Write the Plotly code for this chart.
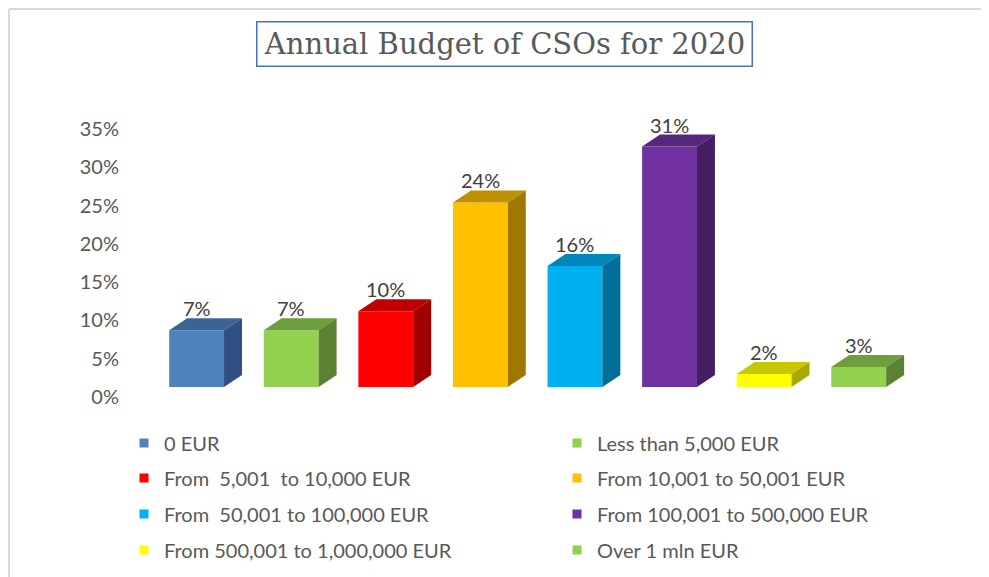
import plotly.graph_objects as go

# ---- data ----
categories = [
    "0 EUR",
    "Less than 5,000 EUR",
    "From\u00a0 5,001\u00a0 to 10,000 EUR",
    "From 10,001 to 50,001 EUR",
    "From\u00a0 50,001 to 100,000 EUR",
    "From 100,001 to 500,000 EUR",
    "From 500,001 to 1,000,000 EUR",
    "Over 1 mln EUR",
]
values = [7.4, 7.4, 9.9, 24.1, 15.8, 31.4, 1.7, 2.6]
y_ticks = [0, 5, 10, 15, 20, 25, 30, 35]
y_tick_labels = ["0%", "5%", "10%", "15%", "20%", "25%", "30%", "35%"]

front_colors = ["#4F81BD", "#92D050", "#FF0000", "#FFC000", "#00B0F0", "#7030A0", "#FFFF00", "#92D050"]
top_colors = ["#3B6496", "#6F9E3D", "#C00000", "#BF9000", "#0086B8", "#55267A", "#C8C800", "#6F9E3D"]
side_colors = ["#2F5080", "#5A8232", "#A00000", "#A07800", "#006F99", "#461F63", "#A8A800", "#5A8232"]

# ---- style ----
BAR_W = 0.58
DX = 0.19   # 3D depth in x-units
DY = 1.57   # 3D depth in y-units
FONT = "Lato"
TXT = "#595959"
OFF = 8     # page body margin (px)

fig = go.Figure()

xs = list(range(len(categories)))
for i, (cat, v) in enumerate(zip(categories, values)):
    fig.add_trace(go.Bar(
        x=[xs[i]], y=[v], width=BAR_W,
        marker=dict(color=front_colors[i], line=dict(width=0)),
        showlegend=False, hoverinfo="skip",
    ))

shapes = []
for i, v in enumerate(values):
    x0 = xs[i] - BAR_W / 2
    x1 = xs[i] + BAR_W / 2
    top = f"M{x0},{v} L{x1},{v} L{x1+DX},{v+DY} L{x0+DX},{v+DY} Z"
    side = f"M{x1},0 L{x1+DX},{DY} L{x1+DX},{v+DY} L{x1},{v} Z"
    shapes.append(dict(type="path", path=top, xref="x", yref="y",
                       fillcolor=top_colors[i], line=dict(width=0), layer="above"))
    shapes.append(dict(type="path", path=side, xref="x", yref="y",
                       fillcolor=side_colors[i], line=dict(width=0), layer="above"))

# plot geometry (figure px)
L, R, T, B = 112, 91, 111, 198
W, H = 989, 577
PW, PH = W - L - R, H - T - B

def px_x(p):
    """screen px -> paper x"""
    return (p - OFF - L) / PW

def px_y(p):
    """screen px -> paper y"""
    return (H - B - (p - OFF)) / PH

# outer frame lines
shapes.append(dict(type="line", xref="paper", yref="paper",
                   x0=px_x(9), x1=px_x(995), y0=px_y(9), y1=px_y(9),
                   line=dict(color="#D9D9D9", width=2)))
shapes.append(dict(type="line", xref="paper", yref="paper",
                   x0=px_x(9), x1=px_x(9), y0=px_y(9), y1=px_y(600),
                   line=dict(color="#D9D9D9", width=2)))

annotations = []
for i, v in enumerate(values):
    annotations.append(dict(
        x=xs[i], y=v + DY, xref="x", yref="y", text=f"{round(v)}%",
        showarrow=False, yanchor="bottom", yshift=-4,
        font=dict(family=FONT, size=20, color="#404040"),
    ))

# title box
annotations.append(dict(
    x=px_x(504), y=px_y(44.5), xref="paper", yref="paper",
    text="Annual Budget of CSOs for 2020", showarrow=False,
    xanchor="center", yanchor="middle",
    width=494, height=43, borderpad=0,
    bordercolor="#4472C4", borderwidth=1.5, bgcolor="white",
    font=dict(family="DejaVu Serif", size=29, color=TXT),
))

# legend entries: one legend per category placed in a 2-column grid
row_y = [443, 478, 514, 550]
col_x = [124, 557]
legend_layouts = {}
for i, cat in enumerate(categories):
    key = "legend" if i == 0 else f"legend{i+1}"
    fig.add_trace(go.Scatter(
        x=[None], y=[None], mode="markers", name=cat,
        marker=dict(symbol="square", size=9, color=front_colors[i]),
        legend=key, showlegend=True, hoverinfo="skip",
    ))
    r, c = divmod(i, 2)
    legend_layouts[key] = dict(
        x=px_x(col_x[c]), y=px_y(row_y[r]), xanchor="left", yanchor="middle",
        bgcolor="rgba(0,0,0,0)", borderwidth=0,
        font=dict(family=FONT, size=20, color=TXT),
    )

fig.update_layout(
    width=W, height=H,
    margin=dict(l=L, r=R, t=T, b=B, pad=0),
    paper_bgcolor="white", plot_bgcolor="white",
    barmode="overlay",
    shapes=shapes, annotations=annotations,
    xaxis=dict(range=[-0.81, 7.5], showticklabels=False, showgrid=False,
               zeroline=False, showline=False, fixedrange=True),
    yaxis=dict(range=[0, 35], tickvals=y_ticks, ticktext=y_tick_labels,
               showgrid=False, zeroline=False, showline=False,
               ticks="", ticklabelshift=10,
               tickfont=dict(family=FONT, size=20, color=TXT), fixedrange=True),
    **legend_layouts,
)

fig.write_html("out.html")
